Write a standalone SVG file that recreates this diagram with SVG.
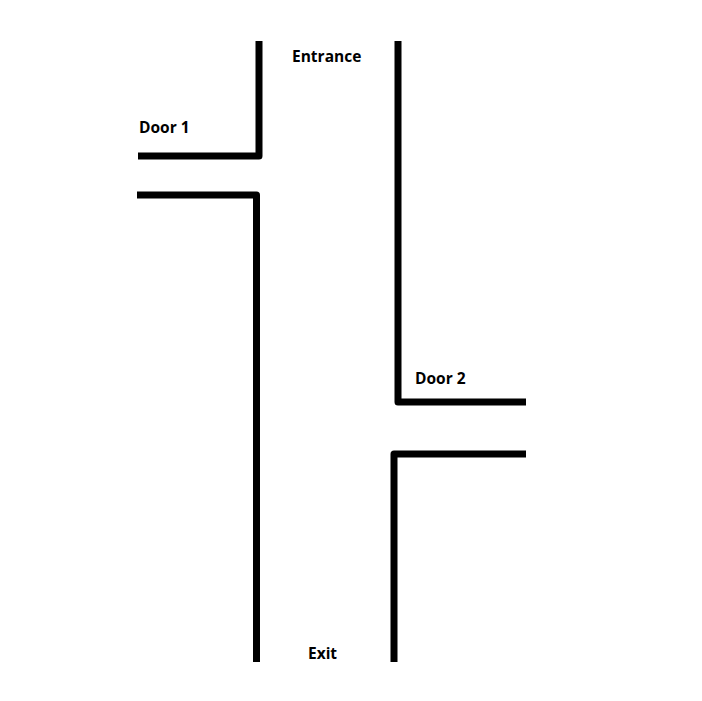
<svg xmlns="http://www.w3.org/2000/svg" width="702" height="701" viewBox="0 0 702 701">
<style>
.wall{fill:none;stroke:#000;stroke-width:7;stroke-linejoin:round;stroke-linecap:butt}
.lbl{font-family:"Open Sans","DejaVu Sans",sans-serif;font-weight:bold;font-size:15.5px;fill:#000}
</style>
<rect width="702" height="701" fill="#fff"/>
<g id="walls">
<path class="wall" d="M259,41 V156 H138"/>
<path class="wall" d="M137,195 H256.5 V662"/>
<path class="wall" d="M398,41 V402 H526"/>
<path class="wall" d="M526,454 H394 V662"/>
</g>
<g id="labels">
<text class="lbl" x="292" y="62">Entrance</text>
<text class="lbl" x="139" y="133">Door 1</text>
<text class="lbl" x="415" y="384">Door 2</text>
<text class="lbl" x="308" y="659">Exit</text>
</g>
</svg>
